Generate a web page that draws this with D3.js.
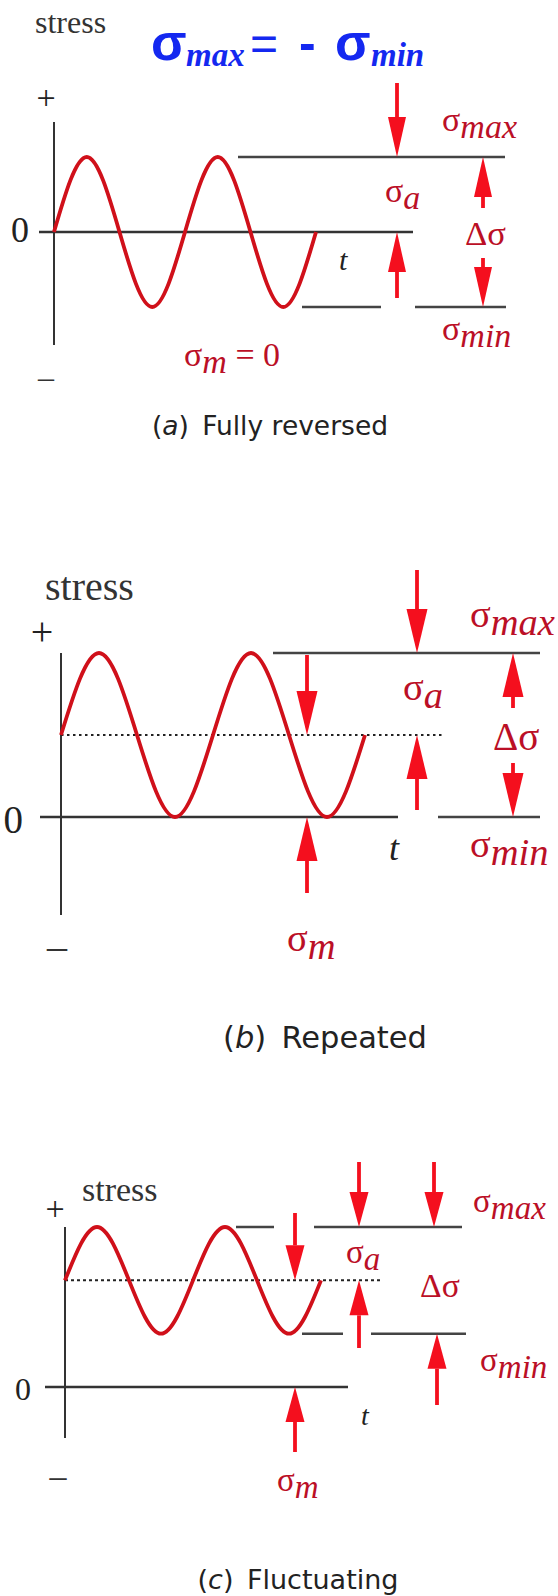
<!DOCTYPE html>
<html>
<head>
<meta charset="utf-8">
<script src="https://cdn.jsdelivr.net/npm/d3@7/dist/d3.min.js"></script>
<style>
  html, body { margin: 0; padding: 0; background: #fff; }
  svg { display: block; }
</style>
</head>
<body>
<script>
// Normalised cyclic stress: one sample every quarter cycle, two full cycles
const waveCycles = [0, 0.25, 0.5, 0.75, 1, 1.25, 1.5, 1.75, 2];
const waveShape  = [0, 1, 0, -1, 0, 1, 0, -1, 0];

// Stress levels for each loading case (in amplitude units)
const panelKeys   = ["a", "b", "c"];
const captions    = ["Fully reversed", "Repeated", "Fluctuating"];
const meanStress  = [0, 1, 2];
const ampStress   = [1, 1, 1];

// Layout of each panel (pixels)
const layout = {
  a: {
    xRange: [54, 316], yDomain: [-1, 1], yRange: [307, 157],
    axisY: [122, 345], zeroX: [39, 413],
    plus: [46, 97, 34], minus: [46, 377, 32], zero: [29, 242, 36],
    stress: [35, 33, 32],
    meanLine: null,
    maxLines: [[238, 505]], minLines: [[302, 381], [415, 506]],
    head: [40, 18],
    arrows: [
      { x: 397, level: "max", tail: 83 },
      { x: 397, level: "mean", tail: 298 },
      { x: 483, level: "max", tail: 208 },
      { x: 483, level: "min", tail: 258 }
    ],
    labelSize: 34,
    sMax: [442, 131], sA: [385, 202], dS: [465, 245], sMin: [442, 340],
    t: [339, 270, 30], sM: [184, 366],
    caption: [270, 435, 26.5]
  },
  b: {
    xRange: [61, 365], yDomain: [0, 2], yRange: [817, 653],
    axisY: [653, 915], zeroX: [40, 398],
    plus: [42, 631, 40], minus: [57, 945, 40], zero: [23, 833, 39],
    stress: [45, 600, 40],
    meanLine: [61, 445],
    maxLines: [[273, 540]], minLines: [[438, 540]],
    head: [44, 21],
    arrows: [
      { x: 417, level: "max", tail: 570 },
      { x: 307, level: "mean", tail: 655 },
      { x: 417, level: "mean", tail: 810 },
      { x: 513, level: "max", tail: 708 },
      { x: 513, level: "min", tail: 763 },
      { x: 307, level: "zero", tail: 893 }
    ],
    labelSize: 38.5,
    sMax: [470, 627], sA: [403, 700], dS: [493, 750], sMin: [470, 857],
    t: [389, 860, 36], sM: [287, 951],
    caption: [325, 1048, 30.5]
  },
  c: {
    xRange: [65, 321], yDomain: [0, 3], yRange: [1387, 1227],
    axisY: [1227, 1438], zeroX: [45, 348],
    plus: [55, 1208, 34], minus: [58, 1475, 34], zero: [31, 1400, 32],
    stress: [82, 1201, 34],
    meanLine: [65, 380],
    maxLines: [[236, 274], [314, 462]], minLines: [[302, 343], [371, 466]],
    head: [35, 19],
    arrows: [
      { x: 359, level: "max", tail: 1162 },
      { x: 434, level: "max", tail: 1162 },
      { x: 295, level: "mean", tail: 1213 },
      { x: 359, level: "mean", tail: 1348 },
      { x: 437, level: "min", tail: 1405 },
      { x: 295, level: "zero", tail: 1452 }
    ],
    labelSize: 33,
    sMax: [473, 1212], sA: [346, 1263], dS: [420, 1297], sMin: [480, 1371],
    t: [361, 1425, 28], sM: [277, 1491],
    caption: [298, 1589, 27]
  }
};

const W = 558, H = 1596;
const serif = "'Liberation Serif', 'Times New Roman', serif";
const sans = "'DejaVu Sans', 'Open Sans', sans-serif";
const axisColor = "#333";
const waveColor = "#d0101a";
const arrowColor = "#f40f1e";
const labelColor = "#bb0f26";

const svg = d3.select("body").append("svg")
  .attr("width", W).attr("height", H)
  .attr("viewBox", `0 0 ${W} ${H}`);

svg.append("rect").attr("width", W).attr("height", H).attr("fill", "#fff");

// σ with an italic subscript
function sigma(g, x, y, sub, size, color) {
  const t = g.append("text")
    .attr("x", x).attr("y", y)
    .attr("font-family", serif)
    .attr("font-size", size)
    .attr("fill", color);
  t.append("tspan").text("σ");
  if (sub) {
    t.append("tspan")
      .attr("font-style", "italic")
      .attr("dy", size * 0.2)
      .text(sub);
  }
  return t;
}

function arrow(g, x, tipY, tailY, head) {
  const [len, w] = head;
  const dir = tailY < tipY ? 1 : -1;     // 1: pointing down
  const baseY = tipY - dir * len;
  g.append("line")
    .attr("x1", x).attr("x2", x)
    .attr("y1", tailY).attr("y2", baseY)
    .attr("stroke", arrowColor).attr("stroke-width", 3.8);
  g.append("path")
    .attr("d", d3.line()([[x, tipY], [x - w / 2, baseY], [x + w / 2, baseY]]) + "Z")
    .attr("fill", arrowColor);
}

panelKeys.forEach((key, i) => {
  const L = layout[key];
  const g = svg.append("g").attr("class", `panel-${key}`);
  const x = d3.scaleLinear().domain([0, 2]).range(L.xRange);
  const y = d3.scaleLinear().domain(L.yDomain).range(L.yRange);
  const mean = meanStress[i], amp = ampStress[i];
  const levels = { max: mean + amp, min: mean - amp, mean: mean, zero: 0 };

  // "stress" axis title and signs
  g.append("text").attr("x", L.stress[0]).attr("y", L.stress[1])
    .attr("font-family", serif).attr("font-size", L.stress[2])
    .attr("fill", "#333").text("stress");
  g.append("text").attr("x", L.plus[0]).attr("y", L.plus[1])
    .attr("text-anchor", "middle").attr("dominant-baseline", "central")
    .attr("font-family", serif).attr("font-size", L.plus[2]).attr("fill", "#222").text("+");
  g.append("text").attr("x", L.minus[0]).attr("y", L.minus[1])
    .attr("text-anchor", "middle").attr("dominant-baseline", "central")
    .attr("font-family", serif).attr("font-size", L.minus[2]).attr("fill", "#333").text("–");
  g.append("text").attr("x", L.zero[0]).attr("y", L.zero[1])
    .attr("text-anchor", "end")
    .attr("font-family", serif).attr("font-size", L.zero[2]).attr("fill", "#222").text("0");

  // axes
  g.append("line").attr("x1", x(0)).attr("x2", x(0))
    .attr("y1", L.axisY[0]).attr("y2", L.axisY[1])
    .attr("stroke", axisColor).attr("stroke-width", 2);
  g.append("line").attr("x1", L.zeroX[0]).attr("x2", L.zeroX[1])
    .attr("y1", y(0)).attr("y2", y(0))
    .attr("stroke", axisColor).attr("stroke-width", 2.5);

  // mean stress (dotted)
  if (L.meanLine) {
    g.append("line").attr("x1", L.meanLine[0]).attr("x2", L.meanLine[1])
      .attr("y1", y(mean)).attr("y2", y(mean))
      .attr("stroke", "#222").attr("stroke-width", 2)
      .attr("stroke-dasharray", key === "b" ? "2.5,3.5" : "3,3");
  }

  // σmax / σmin reference lines
  L.maxLines.forEach(([a, b]) => g.append("line")
    .attr("x1", a).attr("x2", b).attr("y1", y(levels.max)).attr("y2", y(levels.max))
    .attr("stroke", "#444").attr("stroke-width", 2.5));
  L.minLines.forEach(([a, b]) => g.append("line")
    .attr("x1", a).attr("x2", b).attr("y1", y(levels.min)).attr("y2", y(levels.min))
    .attr("stroke", "#444").attr("stroke-width", 2.5));

  // stress history
  const pts = waveCycles.map((c, j) => [x(c), y(mean + amp * waveShape[j])]);
  g.append("path")
    .attr("d", d3.line().curve(d3.curveNatural)(pts))
    .attr("fill", "none").attr("stroke", waveColor).attr("stroke-width", 3.8);

  // dimension arrows
  L.arrows.forEach(a => arrow(g, a.x, y(levels[a.level]), a.tail, L.head));

  // labels
  const s = L.labelSize;
  sigma(g, L.sMax[0], L.sMax[1], "max", s, labelColor);
  sigma(g, L.sA[0], L.sA[1], "a", s, labelColor);
  sigma(g, L.sMin[0], L.sMin[1], "min", s, labelColor);
  g.append("text").attr("x", L.dS[0]).attr("y", L.dS[1])
    .attr("font-family", serif).attr("font-size", s * 1.02)
    .attr("fill", labelColor).text("Δσ");
  g.append("text").attr("x", L.t[0]).attr("y", L.t[1])
    .attr("font-family", serif).attr("font-style", "italic")
    .attr("font-size", L.t[2]).attr("fill", "#222").text("t");
  const sm = sigma(g, L.sM[0], L.sM[1], "m", s, labelColor);
  if (mean === 0) {
    sm.append("tspan").attr("dy", -s * 0.2).text(" = 0");
  }

  // caption
  const cap = g.append("text").attr("x", L.caption[0]).attr("y", L.caption[1])
    .attr("text-anchor", "middle")
    .attr("font-family", sans).attr("font-size", L.caption[2]).attr("fill", "#222");
  cap.append("tspan").text("(");
  cap.append("tspan").attr("font-style", "italic").text(key);
  cap.append("tspan").text(")\u2002" + captions[i]);
});

// Fully reversed condition, in blue above panel (a)
const blue = "#1428f0";
const title = svg.append("text").attr("y", 60)
  .attr("fill", blue).attr("font-family", "'Liberation Sans', Arial, sans-serif");
title.append("tspan").attr("x", 151).attr("font-size", 52).attr("font-weight", "bold").text("σ");
title.append("tspan").attr("x", 186).attr("dy", 6).attr("font-family", serif)
  .attr("font-weight", "bold").attr("font-style", "italic").attr("font-size", 33).text("max");
title.append("tspan").attr("x", 250).attr("dy", -6).attr("font-size", 48).text("=");
title.append("tspan").attr("x", 299).attr("font-size", 50).attr("font-weight", "bold").text("-");
title.append("tspan").attr("x", 335).attr("font-size", 52).attr("font-weight", "bold").text("σ");
title.append("tspan").attr("x", 371).attr("dy", 6).attr("font-family", serif)
  .attr("font-weight", "bold").attr("font-style", "italic").attr("font-size", 33).text("min");
</script>
</body>
</html>
